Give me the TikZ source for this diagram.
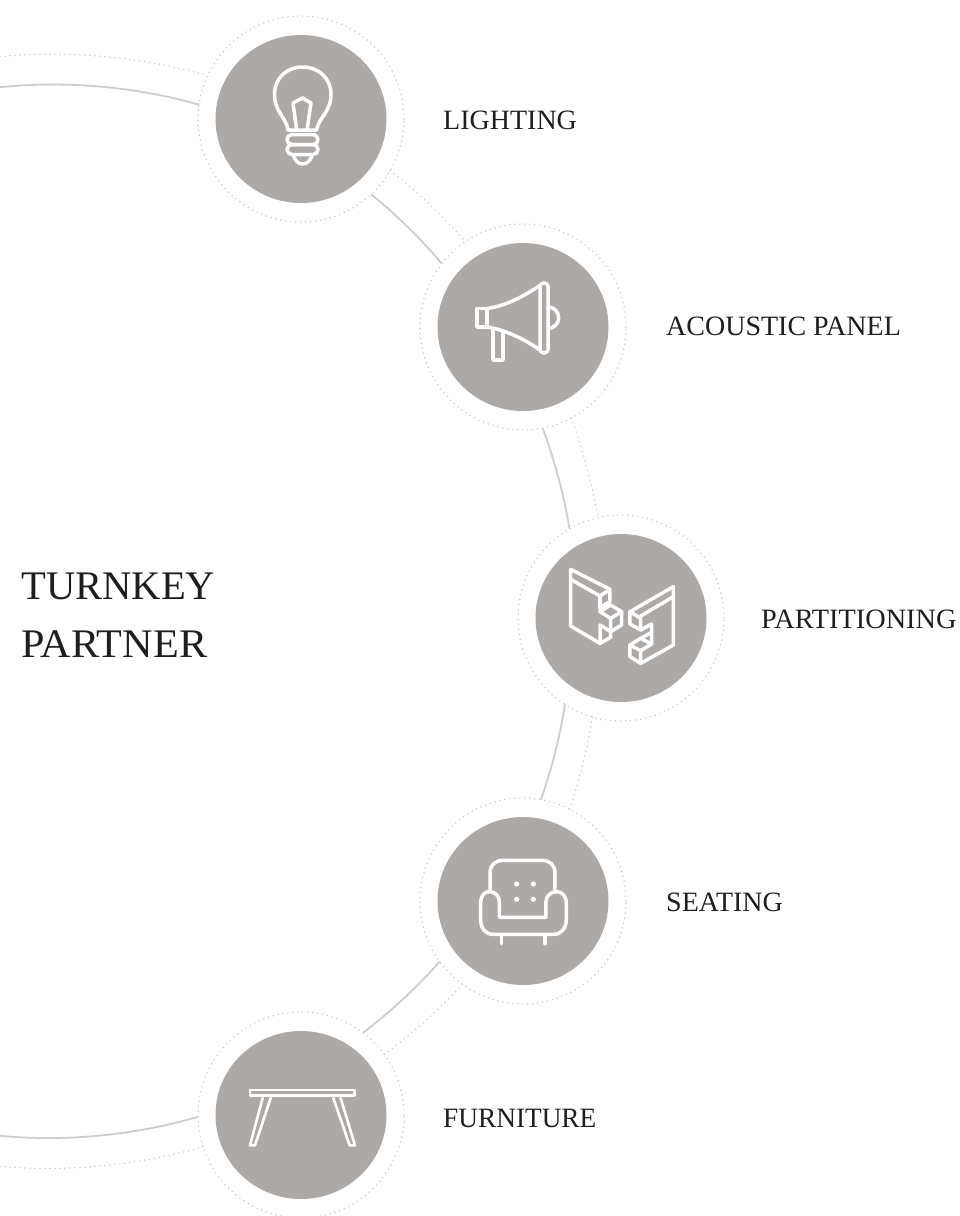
\documentclass[tikz,border=0pt]{standalone}
\usepackage{fontspec}
\usetikzlibrary{shapes.geometric}
\setmainfont{Liberation Serif}
\definecolor{disc}{HTML}{ADA9A7}
\definecolor{ringc}{HTML}{CCCCCC}
\definecolor{arcc}{HTML}{CDCDCD}
\definecolor{ink}{HTML}{1E1E1E}
\tikzset{
  x=1pt,y=-1pt,
  ring/.style={circle,draw=ringc,fill=white,line width=1.7pt,line cap=round,dash pattern=on 0pt off 5pt,minimum size=206pt,inner sep=0pt,outer sep=0pt},
  disk/.style={ellipse,fill=disc,minimum width=171pt,minimum height=168pt,inner sep=0pt,outer sep=0pt},
  lab/.style={anchor=base west,font=\fontsize{28}{30}\selectfont,text=ink,inner sep=0pt},
  ttl/.style={anchor=base west,font=\fontsize{40.6}{46}\selectfont,text=ink,inner sep=0pt},
  solidarc/.style={draw=arcc,line width=1.8pt,looseness=.85},
  dotarc/.style={draw=ringc,line width=1.7pt,line cap=round,dash pattern=on 0pt off 5pt,looseness=.85},
  icon/.style={draw=white,line width=3.5pt,line join=round,line cap=round},
}
\begin{document}
\begin{tikzpicture}
\useasboundingbox (0,0) rectangle (960,1216);
\clip (0,0) rectangle (960,1216);
% rings
\node[ring] (r1) at (301,119) {};
\node[ring] (r2) at (523,327) {};
\node[ring] (r3) at (621,618) {};
\node[ring] (r4) at (523,901) {};
\node[ring] (r5) at (301,1115) {};
\node[disk] (d1) at (301,119) {};
\node[disk] (d2) at (523,327) {};
\node[disk] (d3) at (621,618) {};
\node[disk] (d4) at (523,901) {};
\node[disk] (d5) at (301,1115) {};
% free ends of the big circle
\coordinate (sa) at (0,87.2);
\coordinate (da) at (0,56.6);
\coordinate (sb) at (0,1135.8);
\coordinate (db) at (0,1166.4);
% solid arcs
\draw[solidarc] (sa) to[bend left=10.85] (r1.172);
\draw[solidarc] (r1.-47) to[bend left=5.25] (r2.142);
\draw[solidarc] (r2.-79) to[bend left=5.5] (r3.120.5);
\draw[solidarc] (r3.237.7) to[bend left=5.4] (r4.80.4);
\draw[solidarc] (r4.216.8) to[bend left=5.7] (r5.53.4);
\draw[solidarc] (r5.181) to[bend left=10.8] (sb);
% dotted arcs
\draw[dotarc] (da) to[bend left=10.5] (r1.155.8);
\draw[dotarc] (r1.-30.8) to[bend left=5.15] (r2.124.6);
\draw[dotarc] (r2.-62.5) to[bend left=5] (r3.103.9);
\draw[dotarc] (r3.254) to[bend left=4.5] (r4.63);
\draw[dotarc] (r4.234.5) to[bend left=5.3] (r5.36.9);
\draw[dotarc] (r5.198) to[bend left=10.5] (db);
% bulb
\draw[icon] (288,130) .. controls (286,117) and (274.5,112) .. (274.5,94) .. controls (274.5,78) and (287,67) .. (302.7,67) .. controls (318,67) and (331,78) .. (331,94) .. controls (331,112) and (319,117) .. (316.5,130) -- cycle;
\draw[icon] (296.7,130) -- (293,103) -- (302.5,98) -- (311,103) -- (307,130);
\draw[icon,rounded corners=5pt] (287,134.5) rectangle (318,144.5);
\draw[icon,rounded corners=5pt] (287,144.5) rectangle (318,154.5);
\draw[icon] (293.5,155.5) .. controls (295,160.5) and (298,164) .. (302.7,164) .. controls (307,164) and (310.5,160.5) .. (312,155.5);
% megaphone
\draw[icon] (477,308.5) rectangle (487,327);
\draw[icon] (487,308.5) .. controls (506,306) and (524,296) .. (540,285.5);
\draw[icon] (487,327) .. controls (506,330) and (524,339) .. (540,350);
\draw[icon,rounded corners=3.5pt] (540,283) rectangle (548,353);
\draw[icon] (548,307) arc[start angle=-90,delta angle=180,radius=10.7];
\draw[icon] (493,329) -- (493,360) -- (503,360) -- (503,332);
% partition panels
\begin{scope}[shift={(550,550)},x=.3333pt,y=-.3333pt]
\draw[icon] (62,58) -- (180,118) -- (180,155) -- (150,172) -- (150,185) -- (182,205) -- (215,185) -- (182,165) -- (150,185);
\draw[icon] (62,58) -- (62,228) -- (150,280) -- (182,262) -- (182,205);
\draw[icon] (62,88) -- (150,138) -- (180,118);
\draw[icon] (150,138) -- (150,172);
\draw[icon] (215,185) -- (215,225) -- (182,245) -- (150,225) -- (150,280);
\draw[icon] (370,110) -- (240,185) -- (272,205) -- (272,240) -- (240,222) -- (240,185);
\draw[icon] (370,140) -- (272,198);
\draw[icon] (370,110) -- (370,285) -- (272,340) -- (240,320) -- (240,285) -- (272,302) -- (272,340);
\draw[icon] (272,240) -- (305,222) -- (305,282) -- (272,302);
\draw[icon] (305,282) -- (272,265) -- (240,285);
\draw[icon] (272,265) -- (305,247);
\end{scope}
% armchair
\begin{scope}[shift={(460,840)},x=.3333pt,y=-.3333pt]
\draw[icon] (90,150) -- (90,100) .. controls (90,75) and (105,61) .. (130,61) -- (245,61) .. controls (270,61) and (285,75) .. (285,100) -- (285,150);
\draw[icon] (62,190) .. controls (62,168) and (72,155) .. (88,155) .. controls (105,155) and (118,168) .. (118,185) -- (118,232) -- (258,232) -- (258,185) .. controls (258,168) and (272,155) .. (290,155) .. controls (306,155) and (319,168) .. (319,190) -- (319,238) .. controls (319,264) and (305,283) .. (280,283) -- (100,283) .. controls (75,283) and (62,264) .. (62,238) -- cycle;
\draw[icon] (125,287) -- (125,311);
\draw[icon] (255,287) -- (255,311);
\fill[white] (170,132) circle[radius=2.6pt] (220,132) circle[radius=2.6pt] (170,178) circle[radius=2.6pt] (220,178) circle[radius=2.6pt];
\end{scope}
% table
\begin{scope}[shift={(230,1070)},x=.3333pt,y=-.3333pt,line width=2.6pt]
\draw[icon,line width=2.8pt,line cap=butt] (60,60) rectangle (374,77);
\draw[icon,line width=2.6pt] (98,84) -- (60,226) -- (75,226) -- (122,84);
\draw[icon,line width=2.6pt] (310,84) -- (359,226) -- (375,226) -- (332,84);
\end{scope}
% labels
\node[lab] (t1) at (443,129) {LIGHTING};
\node[lab] (t2) at (666,335) {ACOUSTIC PANEL};
\node[lab] (t3) at (761,628) {\scalebox{1.01}[1]{PARTITIONING}};
\node[lab] (t4) at (666,911) {SEATING};
\node[lab] (t5) at (443,1127) {\scalebox{.975}[1]{FURNITURE}};
\node[ttl] (h1) at (21,599) {TURNKEY};
\node[ttl] (h2) at (21,657) {\scalebox{1.04}[1]{PARTNER}};
\end{tikzpicture}
\end{document}
